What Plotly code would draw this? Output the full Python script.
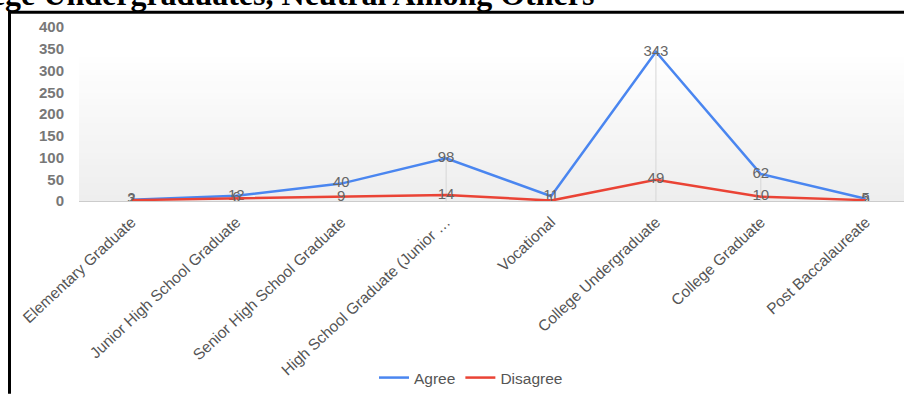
import plotly.graph_objects as go

categories = ["Elementary Graduate", "Junior High School Graduate", "Senior High School Graduate",
              "High School Graduate (Junior High School)", "Vocational", "College Undergraduate",
              "College Graduate", "Post Baccalaureate"]
tick_labels = ["Elementary Graduate", "Junior High School Graduate", "Senior High School Graduate",
               "High School Graduate (Junior …", "Vocational", "College Undergraduate",
               "College Graduate", "Post Baccalaureate"]
agree = [3, 12, 40, 98, 11, 343, 62, 5]
disagree = [2, 6, 9, 14, 1, 49, 10, 2]
y_ticks = [0, 50, 100, 150, 200, 250, 300, 350, 400]
drop_idx = [3, 5, 6]

W, H = 904, 395
L, T, B = 79, 27, 204  # plot area px
PW, PH = W - L, B - T

def px_x(px):
    return (px - L) / PW

def px_y(py):
    return (B - py) / PH

fig = go.Figure()

# drop lines
for i in drop_idx:
    fig.add_trace(go.Scatter(x=[i, i], y=[0, agree[i]], mode="lines",
                             line=dict(color="#d6d6d6", width=1),
                             showlegend=False, hoverinfo="skip"))

label_font = dict(family="Liberation Sans, Arial", size=15, color="#666666")
fig.add_trace(go.Scatter(x=list(range(len(categories))), y=agree, mode="lines+text", name="Agree",
                         text=[str(v) for v in agree], textposition="middle center",
                         textfont=label_font, line=dict(color="#4a86f0", width=2.5)))
fig.add_trace(go.Scatter(x=list(range(len(categories))), y=disagree, mode="lines+text", name="Disagree",
                         text=[str(v) for v in disagree], textposition="middle center",
                         textfont=label_font, line=dict(color="#ea4335", width=2.5)))

shapes = []
# gradient background bands
n = 24
top_val = 331
for k in range(n):
    y0 = top_val * k / n
    y1 = top_val * (k + 1) / n
    f = k / (n - 1)
    c = int(round(0xee + (0xfe - 0xee) * f))
    shapes.append(dict(type="rect", xref="paper", yref="y", x0=0, x1=1, y0=y0, y1=y1,
                       fillcolor=f"rgb({c},{c},{c})", line=dict(width=0), layer="below"))
# border frame
shapes.append(dict(type="line", xref="paper", yref="paper", x0=px_x(9.5), x1=px_x(9.5),
                   y0=px_y(11), y1=px_y(400), line=dict(color="black", width=3)))
shapes.append(dict(type="line", xref="paper", yref="paper", x0=px_x(8), x1=px_x(910),
                   y0=px_y(12), y1=px_y(12), line=dict(color="black", width=3)))

fig.update_layout(
    width=W, height=H,
    margin=dict(l=L, r=0, t=T, b=H - B),
    paper_bgcolor="white", plot_bgcolor="rgba(0,0,0,0)",
    shapes=shapes,
    showlegend=True,
    legend=dict(orientation="h", x=px_x(471), xanchor="center", y=px_y(385), yanchor="middle",
                font=dict(family="Liberation Sans, Arial", size=15.5, color="#555555"),
                itemwidth=30, bgcolor="rgba(0,0,0,0)"),
    annotations=[dict(text="<b>College Undergraduates, Neutral Among Others</b>",
                      xref="paper", yref="paper", x=px_x(596), y=px_y(-7),
                      xanchor="right", yanchor="middle", showarrow=False,
                      font=dict(family="Liberation Serif, Times New Roman", size=32, color="black"))],
)
fig.update_xaxes(range=[-0.5, 7.365], tickmode="array", tickvals=list(range(len(categories))),
                 ticktext=tick_labels, tickangle=-43, showgrid=False, zeroline=False,
                 showline=True, linecolor="#cccccc", linewidth=1,
                 tickfont=dict(family="Liberation Sans, Arial", size=15.5, color="#555555"),
                 ticklabelstandoff=5)
fig.update_yaxes(range=[0, 400], tickmode="array", tickvals=y_ticks, showgrid=False,
                 zeroline=False, showline=False,
                 tickfont=dict(family="Liberation Sans, Arial", size=15, color="#777777", weight="bold"),
                 ticklabelstandoff=14)

fig.write_html("out.html")
